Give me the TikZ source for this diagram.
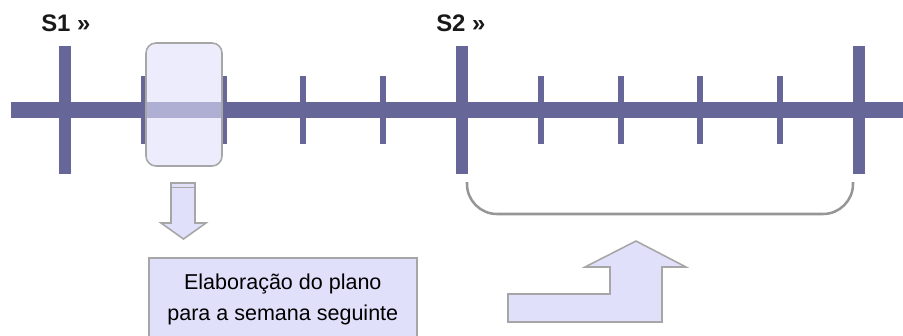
\documentclass[tikz,border=0pt]{standalone}
\usepackage{fontspec}
\setmainfont{Liberation Sans}
\definecolor{axis}{RGB}{102,102,153}
\definecolor{lilac}{RGB}{224,224,250}
\definecolor{rim}{RGB}{166,166,166}
\definecolor{curve}{RGB}{150,150,150}
\tikzset{every node/.style={inner sep=0pt},
  axisline/.style={draw=axis,line width=11.4pt},
  bigtick/.style={draw=axis,line width=8.5pt},
  smalltick/.style={draw=axis,line width=4.3pt},
  hlbox/.style={draw=rim,line width=1.1pt,fill=lilac,fill opacity=0.6,rounded corners=0.25cm},
  pale/.style={draw=rim,line width=1.1pt,fill=lilac},
  bracket/.style={draw=curve,line width=1.8pt,rounded corners=0.75cm},
  weeklabel/.style={font=\fontsize{17}{20}\selectfont\bfseries,text=black!90},
  planbox/.style={pale,align=center,font=\fontsize{15.3}{22}\selectfont}}

\begin{document}
\begin{tikzpicture}[x=0.025cm,y=-0.025cm]
\clip (0,0) rectangle (903,336);
\foreach \k in {0,...,10}
  \coordinate (t\k) at (65+79.4*\k,110);
\draw[axisline] (11,110) -- (910,110);
\foreach \k in {1,2,3,4,6,7,8,9}
  \draw[smalltick] (t\k) ++(0,-34) -- ++(0,68);
\foreach \k in {0,5,10}
  \draw[bigtick] (t\k) ++(0,-64) -- ++(0,128);
\node[weeklabel,anchor=base west] (s1) at (41,31) {S1 »};
\node[weeklabel,anchor=base west] (s2) at (436,31) {S2 »};

% semana em curso
\node[hlbox,minimum width=1.9cm,minimum height=3.075cm] (hl) at (184,104.5) {};
\draw[pale] (171,183) -- (195,183) -- (195,223) -- (206,223) -- (183.5,239)
  -- (161,223) -- (171,223) -- cycle;
\draw[rim,line width=1.1pt] (171,187.5) -- (195,187.5);
\node[planbox,anchor=north west,minimum width=6.7cm,minimum height=2.1cm] (plan)
  at (148,257) {Elaboração do plano\\para a semana seguinte};

% semana seguinte
\draw[bracket] (467,182) -- (467,214) -- (853,214) -- (853,182);
\draw[pale] (508,294) -- (610,294) -- (610,267) -- (585,267) -- (636,241)
  -- (686,267) -- (662,267) -- (662,322) -- (508,322) -- cycle;
\end{tikzpicture}
\end{document}
